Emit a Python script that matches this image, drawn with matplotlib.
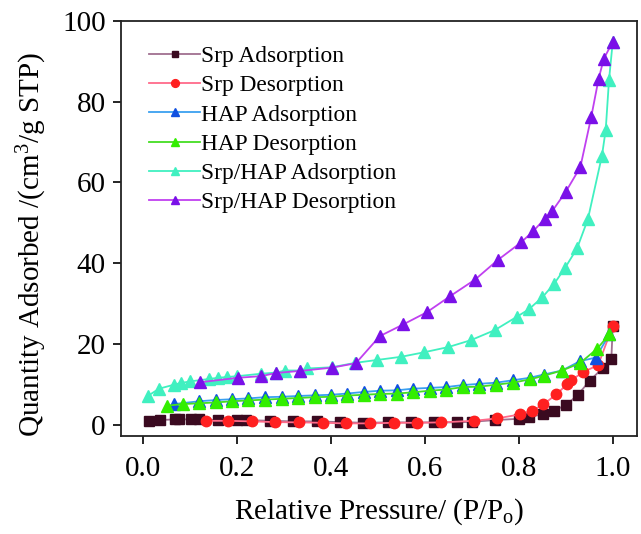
import matplotlib
matplotlib.use("Agg")
import matplotlib.pyplot as plt

plt.rcParams['font.family'] = ['Liberation Serif', 'DejaVu Serif']
plt.rcParams['mathtext.fontset'] = 'custom'
plt.rcParams['mathtext.rm'] = 'Liberation Serif'
plt.rcParams['mathtext.it'] = 'Liberation Serif:italic'

# ---- data ----
srp_ads_x = [0.012, 0.035, 0.068, 0.076, 0.101, 0.120, 0.160, 0.201, 0.220, 0.270, 0.320, 0.370,
             0.420, 0.469, 0.521, 0.570, 0.620, 0.669, 0.700, 0.750, 0.800, 0.821, 0.851, 0.875,
             0.901, 0.925, 0.951, 0.979, 0.997, 1.0]
srp_ads_y = [1.06, 1.24, 1.41, 1.41, 1.41, 1.41, 1.24, 1.24, 1.24, 1.06, 0.92, 0.92,
             0.74, 0.57, 0.67, 0.67, 0.67, 0.67, 0.82, 1.24, 1.56, 1.90, 2.72, 3.54,
             5.01, 7.42, 10.96, 14.17, 16.25, 24.56]

srp_des_x = [1.0, 0.969, 0.937, 0.912, 0.903, 0.880, 0.852, 0.827, 0.803, 0.754, 0.704, 0.634,
             0.584, 0.534, 0.483, 0.432, 0.382, 0.333, 0.281, 0.231, 0.181, 0.135]
srp_des_y = [24.56, 14.84, 13.11, 11.13, 10.14, 7.59, 5.12, 3.46, 2.65, 1.66, 1.06, 0.67,
             0.57, 0.57, 0.42, 0.42, 0.57, 0.67, 0.74, 0.92, 1.06, 1.06]

hap_ads_x = [0.066, 0.120, 0.155, 0.190, 0.224, 0.259, 0.295, 0.330, 0.365, 0.400, 0.434, 0.470,
             0.504, 0.540, 0.574, 0.610, 0.645, 0.681, 0.716, 0.752, 0.788, 0.823, 0.853, 0.892,
             0.930, 0.964, 0.993]
hap_ads_y = [5.2, 5.9, 6.2, 6.4, 6.6, 6.9, 7.0, 7.2, 7.35, 7.5, 7.8, 8.2,
             8.5, 8.6, 9.0, 9.2, 9.4, 9.9, 10.2, 10.5, 11.1, 11.7, 12.5, 13.5,
             15.8, 16.7, 22.5]

hap_des_x = [0.993, 0.967, 0.930, 0.892, 0.853, 0.823, 0.788, 0.752, 0.716, 0.681, 0.645, 0.610,
             0.574, 0.540, 0.504, 0.470, 0.434, 0.400, 0.365, 0.330, 0.295, 0.259, 0.224, 0.190,
             0.155, 0.120, 0.085, 0.051]
hap_des_y = [22.5, 18.9, 15.3, 13.5, 12.2, 11.3, 10.5, 10.0, 9.5, 9.4, 8.8, 8.5,
             8.1, 7.8, 7.7, 7.5, 7.3, 7.0, 6.9, 6.7, 6.5, 6.3, 6.1, 5.9,
             5.6, 5.4, 5.2, 4.8]

sh_ads_x = [0.010, 0.034, 0.066, 0.080, 0.100, 0.140, 0.160, 0.179, 0.201, 0.251, 0.284, 0.302,
            0.334, 0.350, 0.402, 0.452, 0.498, 0.550, 0.598, 0.650, 0.698, 0.749, 0.796, 0.821,
            0.850, 0.875, 0.898, 0.924, 0.947, 0.977, 0.985, 0.992, 1.0]
sh_ads_y = [7.2, 9.0, 10.0, 10.4, 10.8, 11.4, 11.7, 11.9, 12.1, 12.7, 13.0, 13.5,
            13.5, 14.0, 14.3, 15.4, 16.1, 16.9, 18.0, 19.3, 21.0, 23.5, 26.8, 28.6,
            31.6, 34.9, 38.8, 43.7, 50.9, 66.6, 73.0, 85.3, 94.8]

sh_des_x = [1.0, 0.981, 0.970, 0.954, 0.931, 0.900, 0.871, 0.855, 0.831, 0.805, 0.755, 0.707,
            0.654, 0.604, 0.554, 0.504, 0.453, 0.402, 0.335, 0.284, 0.251, 0.202, 0.122]
sh_des_y = [94.8, 90.6, 85.7, 76.1, 63.8, 57.7, 52.9, 51.0, 48.0, 45.2, 40.8, 36.0,
            31.9, 27.9, 24.9, 22.0, 15.3, 14.2, 13.4, 12.9, 12.1, 11.7, 10.6]

labels = ["Srp Adsorption", "Srp Desorption", "HAP Adsorption", "HAP Desorption",
          "Srp/HAP Adsorption", "Srp/HAP Desorption"]
xticks = [0.0, 0.2, 0.4, 0.6, 0.8, 1.0]
yticks = [0, 20, 40, 60, 80, 100]

fig = plt.figure(figsize=(6.41, 5.34), dpi=100)
ax = fig.add_axes([0.1888, 0.1835, 0.8045, 0.7777])

series = [
    (srp_ads_x, srp_ads_y, 's', '#a07090', '#3a0a20', 6.5),
    (srp_des_x, srp_des_y, 'o', '#ff6a8a', '#ff2020', 7.5),
    (hap_ads_x, hap_ads_y, '^', '#3aa0f0', '#1050e0', 8.5),
    (hap_des_x, hap_des_y, '^', '#44dd22', '#33ee00', 8.5),
    (sh_ads_x, sh_ads_y, '^', '#40f0c0', '#40f0c0', 8.5),
    (sh_des_x, sh_des_y, '^', '#c040f0', '#7a10e8', 8.5),
]
for (xs, ys, mk, lc, mc, ms), lab in zip(series, labels):
    ax.plot(xs, ys, color=lc, lw=1.3, marker=mk, markersize=ms,
            markerfacecolor=mc, markeredgecolor=mc, label=lab)

ax.set_xlim(-0.047, 1.051)
ax.set_ylim(-2.7, 100)
ax.set_xticks(xticks)
ax.set_xticklabels([f"{v:.1f}" for v in xticks])
ax.set_yticks(yticks)
ax.set_yticklabels([str(v) for v in yticks])
ax.tick_params(direction='out', length=6, width=1.2, labelsize=21, pad=5)
ax.tick_params(axis='x', pad=8.5)
for s in ax.spines.values():
    s.set_linewidth(1.3)
    s.set_color('#222222')

ax.set_xlabel(r"Relative Pressure/ (P/P$_\mathrm{o}$)", fontsize=21, labelpad=10)
ax.set_ylabel(r"Quantity Adsorbed /(cm$^3$/g STP)", fontsize=21)
ax.yaxis.set_label_coords(-0.14, 0.462)

leg = ax.legend(loc='upper left', bbox_to_anchor=(0.054, 0.94), frameon=False,
                fontsize=16.8, handlelength=2.2, handletextpad=0.05,
                labelspacing=0.34, borderpad=0, borderaxespad=0, markerscale=0.75)

fig.savefig("out.png", dpi=100)
